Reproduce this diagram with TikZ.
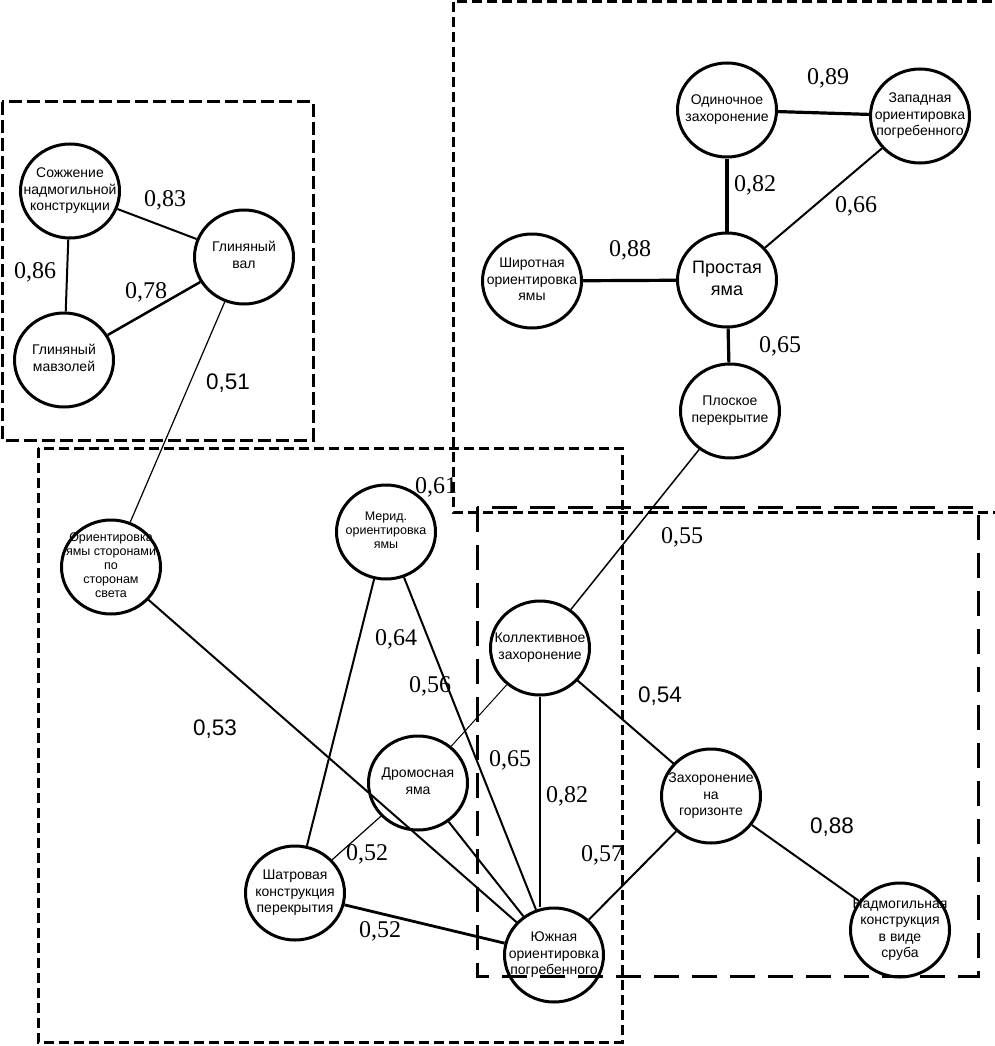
\documentclass[tikz,border=0pt]{standalone}
\usepackage{fontspec}
\setmainfont{Liberation Serif}
\setsansfont{Liberation Sans}
\newfontfamily\wtfont{Liberation Serif}
\usetikzlibrary{shapes.geometric}
\newcommand{\ctext}[1]{\makebox[0pt]{\raisebox{-0.25em}[0pt][0pt]{\begin{tabular}{@{}c@{}}#1\end{tabular}}}}
\tikzset{
  feat/.style={ellipse, draw, line width=3pt, minimum width=99pt, minimum height=94pt, inner sep=0pt,
    font=\sffamily\fontsize{14}{16.5}\selectfont},
  featsmall/.style={feat, font=\sffamily\fontsize{12.5}{14}\selectfont},
  featbig/.style={feat, font=\sffamily\fontsize{18}{21.5}\selectfont},
  wt/.style={inner sep=0pt, font=\wtfont\fontsize{24}{24}\selectfont},
  wtsans/.style={inner sep=0pt, font=\sffamily\fontsize{22.5}{22.5}\selectfont},
  edge/.style={line width=2pt},
  tedge/.style={line width=1.2pt},
  bedge/.style={line width=3.2pt},
  groupA/.style={line width=3pt, dash pattern=on 13pt off 5pt},
  groupB/.style={line width=3pt, dash pattern=on 10pt off 5pt},
  groupC/.style={line width=3pt, dash pattern=on 25pt off 13pt}
}
\begin{document}
\begin{tikzpicture}[x=1pt, y=-1pt]
    \useasboundingbox (0,0) rectangle (995,1046);
    \node[feat] (sozh) at (70,191) {\ctext{Сожжение\\надмогильной\\конструкции}};
    \node[feat] (val) at (244,257) {\ctext{Глиняный\\вал}};
    \node[feat] (mavz) at (64,360) {\ctext{Глиняный\\мавзолей}};
    \node[feat] (odin) at (727,110) {\ctext{Одиночное\\захоронение}};
    \node[feat] (zap) at (920,116) {\ctext{Западная\\ориентировка\\погребенного}};
    \node[feat] (shir) at (532,281) {\ctext{Широтная\\ориентировка\\ямы}};
    \node[featbig] (prost) at (727,280) {\ctext{Простая\\яма}};
    \node[feat] (plosk) at (730,411) {\ctext{Плоское\\перекрытие}};
    \node[featsmall] (orient) at (111,567) {\ctext{Ориентировка\\ямы сторонами\\по\\сторонам\\света}};
    \node[featsmall] (merid) at (386,532) {\ctext{Мерид.\\ориентировка\\ямы}};
    \node[feat] (koll) at (540,648) {\ctext{Коллективное\\захоронение}};
    \node[feat] (drom) at (418,783) {\ctext{Дромосная\\яма}};
    \node[feat] (zahor) at (711,796) {\ctext{Захоронение\\на\\горизонте}};
    \node[feat] (shatr) at (295,893) {\ctext{Шатровая\\конструкция\\перекрытия}};
    \node[feat] (yuzh) at (554,955) {\ctext{Южная\\ориентировка\\погребенного}};
    \node[feat] (nadm) at (900,930) {\ctext{Надмогильная\\конструкция\\в виде\\сруба}};
    \draw[edge] (sozh) -- (val);
    \draw[edge] (sozh) -- (mavz);
    \draw[edge, line width=2.5pt] (mavz) -- (val);
    \draw[tedge] (val) -- (orient);
    \draw[bedge] (odin) -- (zap);
    \draw[bedge] (odin) -- (prost);
    \draw[edge] (zap) -- (prost);
    \draw[bedge] (shir) -- (prost);
    \draw[bedge] (prost) -- (plosk);
    \draw[tedge, line width=1.5pt] (plosk) -- (koll);
    \draw[edge] (orient) -- (yuzh);
    \draw[edge] (merid) -- (shatr);
    \draw[edge] (merid) -- (yuzh);
    \draw[tedge, line width=1pt] (koll) -- (drom);
    \draw[edge] (koll.south) -- (koll.south |- yuzh.north);
    \draw[edge] (koll) -- (zahor);
    \draw[tedge] (drom) -- (shatr);
    \draw[edge] (drom) -- (yuzh);
    \draw[edge, line width=2.8pt] (shatr) -- (yuzh);
    \draw[edge] (zahor) -- (yuzh);
    \draw[edge] (zahor) -- (nadm);
    \node[wt] (w83) at (165,200) {0,83};
    \node[wt] (w86) at (35,272) {0,86};
    \node[wt] (w78) at (146,292) {0,78};
    \node[wtsans] (w51) at (228,383) {0,51};
    \node[wt] (w89) at (828,78) {0,89};
    \node[wt] (w82a) at (755,185) {0,82};
    \node[wt] (w66) at (856,206) {0,66};
    \node[wt] (w88a) at (630,250) {0,88};
    \node[wt] (w65a) at (780,346) {0,65};
    \node[wt] (w55) at (682,537) {0,55};
    \node[wt] (w61) at (436,487) {0,61};
    \node[wt] (w64) at (396,639) {0,64};
    \node[wt] (w56) at (430,686) {0,56};
    \node[wtsans] (w53) at (215,729) {0,53};
    \node[wt] (w65b) at (510,760) {0,65};
    \node[wt] (w82b) at (567,796) {0,82};
    \node[wtsans] (w54) at (660,696) {0,54};
    \node[wtsans] (w88b) at (832,827) {0,88};
    \node[wt] (w57) at (602,855) {0,57};
    \node[wt] (w52a) at (367,854) {0,52};
    \node[wt] (w52b) at (380,931) {0,52};
    \draw[groupA] (2,102) rectangle (313,440);
    \draw[groupB] (453,2) rectangle (1000,512);
    \draw[groupB] (38,448) rectangle (622,1042);
    \draw[groupC] (477,507) rectangle (978,976);
\end{tikzpicture}
\end{document}
